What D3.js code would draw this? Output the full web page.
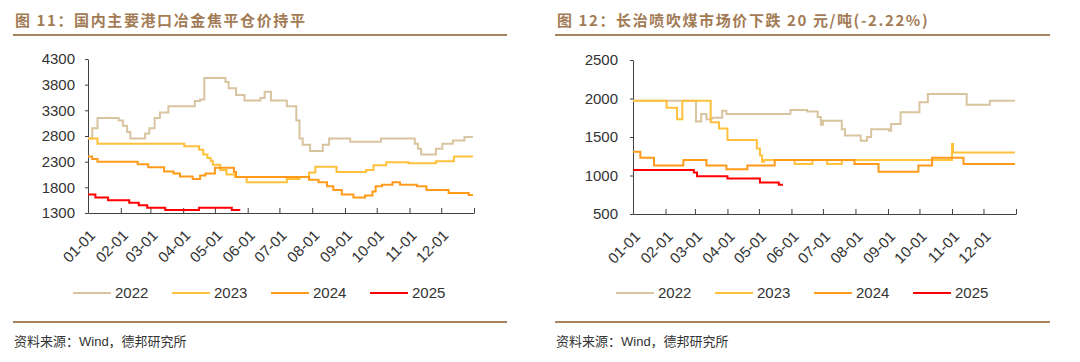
<!DOCTYPE html>
<html>
<head>
<meta charset="utf-8">
<script src="https://cdn.jsdelivr.net/npm/d3@7"></script>
<style>
  body { margin: 0; background: #fff; }
  svg { display: block; font-family: "Liberation Sans", Arial, "Noto Sans CJK SC", sans-serif; }
</style>
</head>
<body>
<svg id="chart" width="1080" height="362"></svg>
<script>
/* tick labels en jaren */
var monthLabels = ["01-01", "02-01", "03-01", "04-01", "05-01", "06-01",
                   "07-01", "08-01", "09-01", "10-01", "11-01", "12-01"];
var years = ["2022", "2023", "2024", "2025"];
var yearColors = ["#D9C4A0", "#FFC13B", "#FF9A1A", "#FF0000"];

/* figuur 11: cokes prijs (datum van verandering, prijs) */
var coke2022 = [["01-01", 2750], ["01-05", 2950], ["01-10", 3150], ["01-30", 3100], ["02-03", 3000],
  ["02-07", 2880], ["02-10", 2750], ["02-24", 2850], ["02-28", 2950], ["03-05", 3150], ["03-10", 3260],
  ["03-18", 3380], ["04-12", 3480], ["04-17", 3510], ["04-21", 3930], ["05-11", 3850], ["05-14", 3730],
  ["05-21", 3600], ["05-29", 3490], ["06-13", 3540], ["06-17", 3660], ["06-23", 3490], ["07-08", 3380],
  ["07-17", 3100], ["07-20", 2750], ["07-23", 2630], ["07-30", 2510], ["08-11", 2630], ["08-17", 2750],
  ["09-06", 2690], ["10-05", 2750], ["11-06", 2650], ["11-09", 2550], ["11-12", 2440], ["11-26", 2550],
  ["12-02", 2650], ["12-12", 2710], ["12-23", 2780], ["12-31", 2780]];
var coke2023 = [["01-01", 2750], ["01-10", 2650], ["04-02", 2600], ["04-16", 2530], ["04-20", 2440],
  ["04-24", 2370], ["04-27", 2320], ["04-29", 2240], ["05-06", 2140], ["05-12", 2050], ["05-20", 2000],
  ["05-31", 1900], ["07-08", 1960], ["07-20", 2000], ["07-29", 2090], ["08-04", 2200], ["08-24", 2100],
  ["09-21", 2140], ["09-28", 2230], ["10-10", 2290], ["10-31", 2270], ["11-26", 2310], ["12-13", 2400],
  ["12-31", 2400]];
var coke2024 = [["01-01", 2400], ["01-05", 2350], ["01-10", 2300], ["02-17", 2250], ["02-27", 2190],
  ["03-14", 2110], ["03-23", 2070], ["03-29", 2010], ["04-10", 1960], ["04-17", 2030], ["04-22", 2070],
  ["05-01", 2180], ["05-19", 2100], ["05-21", 2000], ["07-29", 1950], ["08-07", 1900], ["08-15", 1820],
  ["08-21", 1750], ["08-29", 1660], ["09-09", 1600], ["09-20", 1640], ["09-27", 1720], ["09-30", 1820],
  ["10-06", 1850], ["10-16", 1900], ["10-23", 1850], ["11-08", 1820], ["11-17", 1750], ["12-08", 1690],
  ["12-27", 1650], ["12-31", 1650]];
var coke2025 = [["01-01", 1660], ["01-08", 1600], ["01-20", 1550], ["02-09", 1500], ["02-18", 1450],
  ["02-26", 1400], ["03-15", 1360], ["04-16", 1400], ["05-17", 1360], ["05-25", 1360]];
var cokeTicks = [1300, 1800, 2300, 2800, 3300, 3800, 4300];

/* figuur 12: steenkool prijs */
var coal2022 = [["01-01", 1970], ["03-01", 1970], ["03-02", 1700], ["03-07", 1800], ["03-12", 1730],
  ["03-17", 1750], ["03-27", 1840], ["03-31", 1800], ["05-31", 1850], ["06-16", 1830], ["06-26", 1760],
  ["06-29", 1660], ["07-01", 1710], ["07-19", 1600], ["07-22", 1520], ["08-06", 1450], ["08-12", 1500],
  ["08-16", 1600], ["09-02", 1580], ["09-04", 1670], ["09-13", 1820], ["10-01", 1950], ["10-09", 2060],
  ["11-15", 1920], ["12-07", 1970], ["12-31", 1970]];
var coal2023 = [["01-01", 1970], ["02-02", 1880], ["02-12", 1730], ["02-17", 1970], ["03-16", 1690],
  ["03-24", 1610], ["04-01", 1460], ["04-29", 1350], ["05-02", 1260], ["05-04", 1180], ["05-06", 1200],
  ["06-04", 1150], ["06-21", 1200], ["07-05", 1150], ["07-19", 1200], ["11-01", 1410], ["11-02", 1300],
  ["12-31", 1300]];
var coal2024 = [["01-01", 1310], ["01-08", 1230], ["01-21", 1130], ["02-18", 1200], ["03-12", 1130],
  ["03-31", 1080], ["04-20", 1130], ["05-16", 1200], ["07-31", 1150], ["08-23", 1050], ["09-30", 1130],
  ["10-13", 1230], ["11-12", 1150], ["12-31", 1150]];
var coal2025 = [["01-01", 1070], ["02-28", 1040], ["03-03", 990], ["04-01", 960], ["05-02", 910],
  ["05-20", 880], ["05-24", 880]];
var coalTicks = [500, 1000, 1500, 2000, 2500];

var svg = d3.select("#chart");
var parseDay = d3.timeParse("%m-%d");
var titleColor = "#A27B55", ruleColor = "#A9855F", axisColor = "#404040";

function drawPanel(p) {
  var g = svg.append("g").attr("transform", "translate(" + p.left + ",0)");

  /* titel met lijn eronder */
  g.append("text")
      .attr("x", p.titleX).attr("y", 26)
      .attr("fill", titleColor)
      .attr("font-family", "'Noto Sans CJK SC', sans-serif")
      .attr("font-weight", "bold")
      .attr("font-size", 15)
      .attr("letter-spacing", 1.6)
      .text(p.title);
  g.append("line")
      .attr("x1", p.ruleX1).attr("x2", p.ruleX2).attr("y1", 35).attr("y2", 35)
      .attr("stroke", ruleColor).attr("stroke-width", 2);

  var x = d3.scaleTime()
      .domain([parseDay("01-01"), new Date(1901, 0, 1)])
      .range([p.x0, p.x1]);
  var y = d3.scaleLinear().domain(p.domain).range([p.y1, p.y0]);

  /* y as */
  var yAxis = g.append("g")
      .attr("transform", "translate(" + p.x0 + ",0)")
      .call(d3.axisLeft(y).tickValues(p.ticks).tickFormat(d3.format("d"))
        .tickSize(3).tickSizeOuter(0).tickPadding(p.yPad));
  yAxis.selectAll("text").attr("font-size", 15).attr("fill", "#333");

  /* x as, streepjes naar binnen */
  var xAxis = g.append("g")
      .attr("transform", "translate(0," + p.y1 + ")")
      .call(d3.axisBottom(x)
        .tickValues(monthLabels.map(parseDay).concat([x.domain()[1]]))
        .tickSize(-5).tickSizeOuter(0)
        .tickFormat(function(d, i) { return monthLabels[i] || ""; }));
  xAxis.selectAll("text")
      .attr("font-size", 15).attr("fill", "#333")
      .attr("text-anchor", "end")
      .attr("transform", "rotate(-45)")
      .attr("x", -11).attr("y", 22).attr("dy", 0);

  svg.selectAll(".domain, .tick line").attr("stroke", axisColor);

  var line = d3.line()
      .curve(d3.curveStepAfter)
      .x(function(d) { return x(parseDay(d[0])); })
      .y(function(d) { return y(d[1]); });

  p.series.forEach(function(s, i) {
    g.append("path")
        .datum(s)
        .attr("fill", "none")
        .attr("stroke", yearColors[i])
        .attr("stroke-width", 2)
        .attr("d", line);
  });

  /* legenda */
  var leg = g.selectAll(".legend")
      .data(years)
      .enter().append("g")
      .attr("class", "legend")
      .attr("transform", function(d, i) { return "translate(" + (p.legendX + i * 99) + ",293)"; });
  leg.append("line")
      .attr("x1", 0).attr("x2", 38)
      .attr("stroke", function(d, i) { return yearColors[i]; })
      .attr("stroke-width", 2);
  leg.append("text")
      .attr("x", 42).attr("dy", "0.35em")
      .attr("font-size", 15).attr("fill", "#333")
      .text(function(d) { return d; });

  /* bron */
  g.append("line")
      .attr("x1", p.ruleX1).attr("x2", p.ruleX2).attr("y1", 322).attr("y2", 322)
      .attr("stroke", ruleColor).attr("stroke-width", 2);
  g.append("text")
      .attr("x", p.titleX - 1).attr("y", 346)
      .attr("font-size", 13).attr("fill", "#333")
      .text("资料来源：Wind，德邦研究所");
}

drawPanel({
  left: 0, titleX: 15, ruleX1: 13, ruleX2: 507,
  title: "图 11：国内主要港口冶金焦平仓价持平",
  x0: 88, x1: 474, y0: 59, y1: 213, yPad: 10,
  domain: [1300, 4300], ticks: cokeTicks,
  series: [coke2022, coke2023, coke2024, coke2025],
  legendX: 73
});

drawPanel({
  left: 540, titleX: 17, ruleX1: 15, ruleX2: 510,
  title: "图 12：长治喷吹煤市场价下跌 20 元/吨(-2.22%)",
  x0: 93, x1: 476, y0: 60, y1: 214, yPad: 12,
  domain: [500, 2500], ticks: coalTicks,
  series: [coal2022, coal2023, coal2024, coal2025],
  legendX: 76
});
</script>
</body>
</html>
